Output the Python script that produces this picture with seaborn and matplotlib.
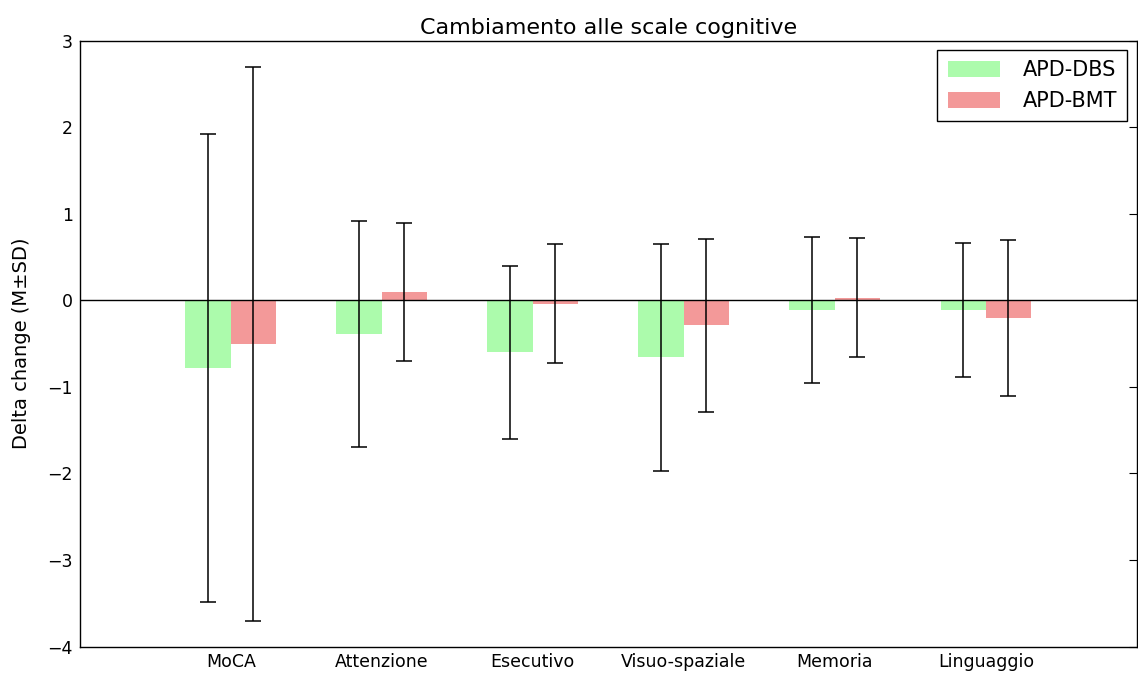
import numpy as np
import pandas as pd
import seaborn as sns
import matplotlib
matplotlib.use("Agg")
import matplotlib.pyplot as plt

categories = ["MoCA", "Attenzione", "Esecutivo", "Visuo-spaziale", "Memoria", "Linguaggio"]
groups = ["APD-DBS", "APD-BMT"]
dbs_mean = [-0.78, -0.39, -0.60, -0.66, -0.11, -0.115]
dbs_sd = [2.70, 1.31, 1.00, 1.31, 0.84, 0.775]
bmt_mean = [-0.50, 0.095, -0.04, -0.29, 0.03, -0.20]
bmt_sd = [3.20, 0.80, 0.69, 1.00, 0.69, 0.90]

df = pd.DataFrame({
    "scala": categories * 2,
    "gruppo": [groups[0]] * len(categories) + [groups[1]] * len(categories),
    "delta": dbs_mean + bmt_mean,
})

sns.set_style("white")
plt.rcParams["font.family"] = ["DejaVu Sans"]
plt.rcParams["text.color"] = "black"
plt.rcParams["axes.labelcolor"] = "black"
plt.rcParams["xtick.color"] = "black"
plt.rcParams["ytick.color"] = "black"

fig, ax = plt.subplots(figsize=(11.38, 6.77), dpi=100)
palette = {"APD-DBS": "#98fb98", "APD-BMT": "#f08080"}
sns.barplot(data=df, x="scala", y="delta", hue="gruppo", palette=palette,
            width=0.6, alpha=0.8, saturation=1, errorbar=None, ax=ax,
            linewidth=0)

x = np.arange(len(categories))
ax.errorbar(x - 0.15, dbs_mean, yerr=dbs_sd, fmt="none", ecolor="black",
            elinewidth=1.1, capsize=6, capthick=1.1)
ax.errorbar(x + 0.15, bmt_mean, yerr=bmt_sd, fmt="none", ecolor="black",
            elinewidth=1.1, capsize=6, capthick=1.1)
ax.axhline(0, color="black", linewidth=1)

ax.set_xlim(-1, 6)
ax.set_ylim(-4, 3)
ax.set_yticks(range(-4, 4))
ax.set_xlabel("")
ax.set_ylabel("Delta change (M±SD)", fontsize=14, color="black", labelpad=12)
ax.set_title("Cambiamento alle scale cognitive", fontsize=16, color="black", pad=5)
ax.tick_params(direction="in", top=True, right=True, labelsize=12.5, length=6,
               colors="black")
ax.tick_params(axis="x", length=0, pad=5)
ax.tick_params(axis="y", pad=5)
for s in ax.spines.values():
    s.set_color("black")
    s.set_linewidth(1)

leg = ax.legend(loc="upper right", fontsize=15, fancybox=False, edgecolor="black",
                framealpha=1, handlelength=2.5, handleheight=0.8, borderpad=0.5,
                handletextpad=1.1, borderaxespad=0.45)
leg.get_frame().set_linewidth(1)
for t in leg.get_texts():
    t.set_color("black")

plt.subplots_adjust(left=0.07, right=0.999, top=0.94, bottom=0.045)
fig.savefig("out.png", dpi=100)
